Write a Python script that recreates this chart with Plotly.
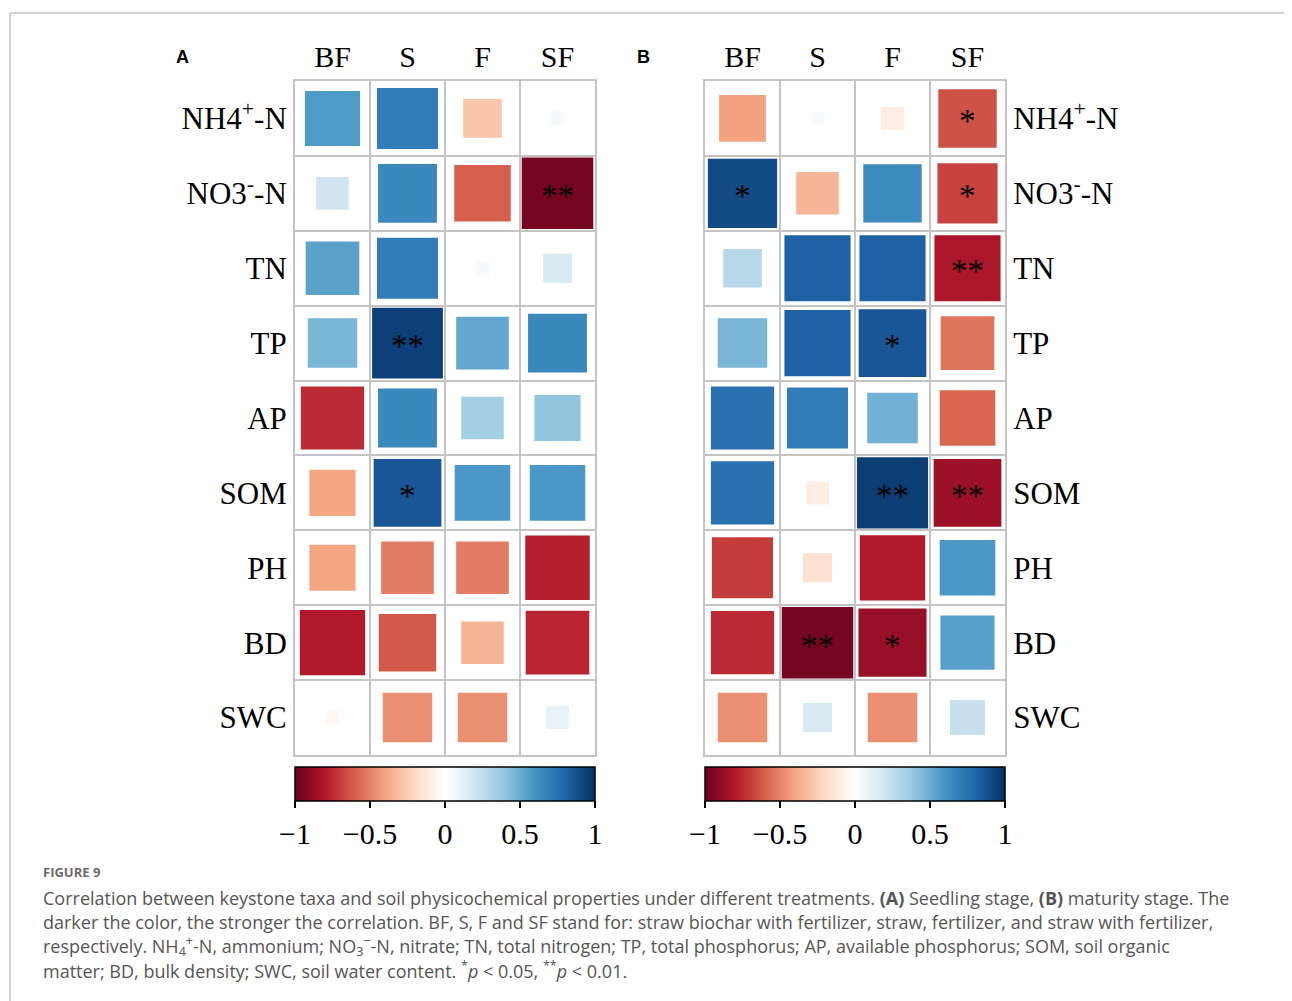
import plotly.graph_objects as go
import numpy as np

W, H = 1284, 993   # page adds an 8 px body margin
OFF = 8

treatments = ["BF", "S", "F", "SF"]
properties = ["NH4<sup>+</sup>-N", "NO3<sup>-</sup>-N", "TN", "TP", "AP", "SOM", "PH", "BD", "SWC"]

# Panel A: seedling stage (rows = properties, cols = treatments)
corr_A_NH4 = [0.57, 0.70, -0.28, 0.04]
corr_A_NO3 = [0.20, 0.65, -0.60, -0.96]
corr_A_TN  = [0.54, 0.70, 0.04, 0.16]
corr_A_TP  = [0.46, 0.94, 0.52, 0.65]
corr_A_AP  = [-0.75, 0.65, 0.34, 0.40]
corr_A_SOM = [-0.40, 0.86, 0.58, 0.58]
corr_A_PH  = [-0.40, -0.52, -0.52, -0.78]
corr_A_BD  = [-0.80, -0.62, -0.34, -0.76]
corr_A_SWC = [-0.04, -0.46, -0.46, 0.10]
sig_A = [["", "", "", ""], ["", "", "", "**"], ["", "", "", ""], ["", "**", "", ""],
         ["", "", "", ""], ["", "*", "", ""], ["", "", "", ""], ["", "", "", ""], ["", "", "", ""]]

# Panel B: maturity stage
corr_B_NH4 = [-0.41, 0.03, -0.10, -0.64]
corr_B_NO3 = [0.90, -0.34, 0.64, -0.68]
corr_B_TN  = [0.28, 0.82, 0.82, -0.82]
corr_B_TP  = [0.46, 0.82, 0.86, -0.54]
corr_B_AP  = [0.75, 0.70, 0.48, -0.58]
corr_B_SOM = [0.75, -0.10, 0.95, -0.86]
corr_B_PH  = [-0.70, -0.16, -0.80, 0.58]
corr_B_BD  = [-0.75, -0.96, -0.87, 0.55]
corr_B_SWC = [-0.46, 0.16, -0.46, 0.23]
sig_B = [["", "", "", "*"], ["*", "", "", "*"], ["", "", "", "**"], ["", "", "*", ""],
         ["", "", "", ""], ["", "", "**", "**"], ["", "", "", ""], ["", "**", "*", ""], ["", "", "", ""]]

corr_A = [corr_A_NH4, corr_A_NO3, corr_A_TN, corr_A_TP, corr_A_AP, corr_A_SOM, corr_A_PH, corr_A_BD, corr_A_SWC]
corr_B = [corr_B_NH4, corr_B_NO3, corr_B_TN, corr_B_TP, corr_B_AP, corr_B_SOM, corr_B_PH, corr_B_BD, corr_B_SWC]

cb_ticks = [-1, -0.5, 0, 0.5, 1]
cb_ticktext = ["\u22121", "\u22120.5", "0", "0.5", "1"]

rdbu = ["#67001F", "#B2182B", "#D6604D", "#F4A582", "#FDDBC7", "#FFFFFF",
        "#D1E5F0", "#92C5DE", "#4393C3", "#2166AC", "#053061"]
colorscale = [[i / 10, c] for i, c in enumerate(rdbu)]

SERIF = "Liberation Serif, Times New Roman, serif"
CELL = 74.5

def px_x(p):
    return (p - OFF) / W

def px_y(p):
    return 1 - (p - OFF) / H

fig = go.Figure()

def add_panel(corr, sig, xa, ya, cb_x):
    xs, ys, vals, sizes = [], [], [], []
    for i, row in enumerate(corr):
        for j, v in enumerate(row):
            xs.append(j + 1)
            ys.append(i + 1)
            vals.append(v)
            sizes.append(0.98 * CELL * np.sqrt(abs(v)))
            if sig[i][j]:
                fig.add_annotation(x=j + 1, y=i + 1, xref=xa, yref=ya, text=sig[i][j],
                                   showarrow=False, yshift=-3,
                                   font=dict(family=SERIF, size=33, color="black"))
    fig.add_trace(go.Scatter(
        x=xs, y=ys, mode="markers", xaxis=xa, yaxis=ya,
        marker=dict(symbol="square", size=sizes, color=vals, cmin=-1, cmax=1, opacity=1,
                    colorscale=colorscale, line=dict(width=0),
                    showscale=True,
                    colorbar=dict(orientation="h", x=cb_x, xanchor="center",
                                  y=px_y(767), yanchor="top",
                                  len=300, lenmode="pixels", thickness=34,
                                  thicknessmode="pixels", xpad=0, ypad=0,
                                  outlinewidth=1.5, outlinecolor="black",
                                  ticks="outside", ticklen=7, tickwidth=1.5, tickcolor="black",
                                  tickvals=cb_ticks, ticktext=cb_ticktext,
                                  tickfont=dict(family=SERIF, size=30, color="black"))),
        showlegend=False, hoverinfo="skip"))

grid_color = "#c4c4c4"
xbounds = [0.5, 1.5, 2.5, 3.5, 4.5]
ybounds = [0.5 + k for k in range(10)]

def xaxis_def(dom, anchor):
    return dict(domain=dom, range=[0.5, 4.5], side="top", anchor=anchor, tickvals=[1, 2, 3, 4],
                ticktext=treatments, ticks="", showgrid=False, zeroline=False,
                showline=True, mirror=True, linecolor=grid_color, linewidth=2,
                tickfont=dict(family=SERIF, size=30, color="black"),
                minor=dict(tickvals=xbounds, showgrid=True, gridcolor=grid_color, gridwidth=2, ticks=""),
                fixedrange=True)

def yaxis_def(dom, side, anchor):
    return dict(domain=dom, range=[9.5, 0.5], side=side, anchor=anchor,
                tickvals=list(range(1, 10)), ticktext=properties, ticks="",
                showgrid=False, zeroline=False, showline=True, mirror=True,
                linecolor=grid_color, linewidth=2,
                tickfont=dict(family=SERIF, size=31, color="black"),
                minor=dict(tickvals=ybounds, showgrid=True, gridcolor=grid_color, gridwidth=2, ticks=""),
                fixedrange=True)

ydom = [px_y(755), px_y(81)]
fig.update_layout(
    width=W, height=H, margin=dict(l=0, r=0, t=0, b=0),
    paper_bgcolor="white", plot_bgcolor="white",
    xaxis=xaxis_def([px_x(295), px_x(595)], "y"),
    yaxis=yaxis_def(ydom, "left", "x"),
    xaxis2=xaxis_def([px_x(705), px_x(1005)], "y2"),
    yaxis2=yaxis_def(ydom, "right", "x2"),
)

add_panel(corr_A, sig_A, "x", "y", px_x(445))
add_panel(corr_B, sig_B, "x2", "y2", px_x(855))

# frame lines
fig.add_shape(type="line", xref="paper", yref="paper", x0=px_x(10), x1=1, y0=px_y(13), y1=px_y(13),
              line=dict(color="#c0c0c0", width=1.5))
fig.add_shape(type="line", xref="paper", yref="paper", x0=px_x(10), x1=px_x(10), y0=0, y1=px_y(13),
              line=dict(color="#c0c0c0", width=1.5))

# panel letters
for lab, xp in [("A", 183), ("B", 643)]:
    fig.add_annotation(text="<b>%s</b>" % lab, xref="paper", yref="paper", x=px_x(xp), y=px_y(57),
                       xanchor="center", yanchor="middle", showarrow=False,
                       font=dict(family="Liberation Sans, Arial", size=18, color="black"))

CAP = "Open Sans, Lato, sans-serif"
fig.add_annotation(text="<b>FIGURE 9</b>", xref="paper", yref="paper", x=px_x(41), y=px_y(872),
                   xanchor="left", yanchor="middle", showarrow=False,
                   font=dict(family=CAP, size=13, color="#6a6a6a"))

caption_lines = [
    "Correlation between keystone taxa and soil physicochemical properties under different treatments. <b>(A)</b> Seedling stage, <b>(B)</b> maturity stage. The",
    "darker the color, the stronger the correlation. BF, S, F and SF stand for: straw biochar with fertilizer, straw, fertilizer, and straw with fertilizer,",
    "respectively. NH<sub>4</sub><sup>+</sup>-N, ammonium; NO<sub>3</sub><sup>\u2212</sup>-N, nitrate; TN, total nitrogen; TP, total phosphorus; AP, available phosphorus; SOM, soil organic",
    "matter; BD, bulk density; SWC, soil water content. <sup>*</sup><i>p</i> &lt; 0.05, <sup>**</sup><i>p</i> &lt; 0.01.",
]
for k, line in enumerate(caption_lines):
    fig.add_annotation(text=line, xref="paper", yref="paper", x=px_x(41), y=px_y(898 + 24 * k),
                       xanchor="left", yanchor="middle", showarrow=False,
                       font=dict(family=CAP, size=18, color="#555555"))

fig.write_html("out.html")
